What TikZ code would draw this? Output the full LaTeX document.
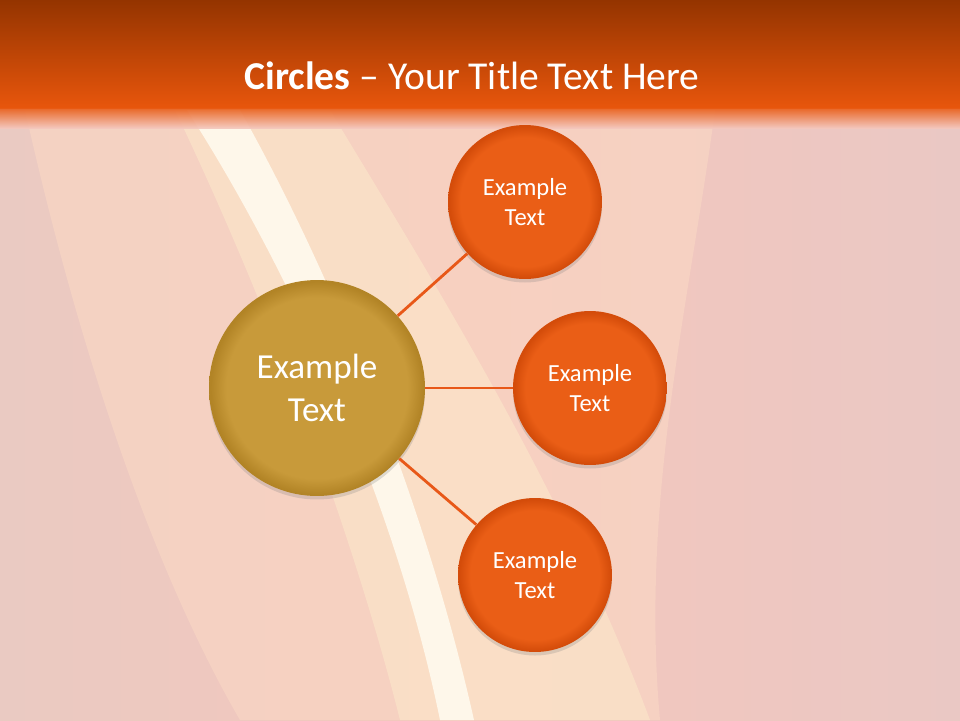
\documentclass[tikz,border=0pt]{standalone}
\usepackage{fontspec}
\setmainfont{Carlito}
\usetikzlibrary{shadows}

\definecolor{barTop}{RGB}{148,52,0}
\definecolor{barBottom}{RGB}{232,86,12}
\definecolor{bgLeft}{RGB}{234,202,194}
\definecolor{bgPink}{RGB}{244,198,188}
\definecolor{bgRight}{RGB}{234,200,196}
\definecolor{bgPeach}{RGB}{250,216,196}
\definecolor{bgCream}{RGB}{252,232,202}
\definecolor{stripeColor}{RGB}{254,247,234}
\definecolor{ballOrange}{RGB}{234,94,22}
\definecolor{ballRim}{RGB}{212,76,10}
\definecolor{ballGold}{RGB}{200,154,58}
\definecolor{goldRim}{RGB}{178,132,38}
\definecolor{edgeLine}{RGB}{232,88,24}

\pgfdeclareradialshading{orangeball}{\pgfpoint{0bp}{0bp}}{color(0bp)=(ballOrange); color(21bp)=(ballOrange); color(24.6bp)=(ballRim); color(25bp)=(ballRim); color(50bp)=(ballRim)}
\pgfdeclareradialshading{goldball}{\pgfpoint{0bp}{0bp}}{color(0bp)=(ballGold); color(21bp)=(ballGold); color(24.6bp)=(goldRim); color(25bp)=(goldRim); color(50bp)=(goldRim)}

\begin{document}
\begin{tikzpicture}[x=0.02cm, y=-0.02cm]
    % 背景
    \shade[left color=bgLeft, right color=bgRight, middle color=bgPink] (0,0) rectangle (960,720);
    \fill[bgPeach, opacity=0.6] (25,110) .. controls (90,400) and (170,600) .. (240,720) -- (660,720) .. controls (640,500) and (690,300) .. (715,110) -- cycle;
    \fill[bgCream, opacity=0.6] (175,110) .. controls (280,330) and (360,560) .. (400,720) -- (650,720) .. controls (560,480) and (420,260) .. (330,110) -- cycle;
    \fill[stripeColor] (187,110) .. controls (290,270) and (395,500) .. (440,720) -- (474,720) .. controls (425,500) and (330,270) .. (240,110) -- cycle;

    % タイトル
    \shade[top color=barTop, bottom color=barBottom] (0,0) rectangle (960,108);
    \shade[top color=barBottom, bottom color=bgPink, opacity=0.9] (0,107) rectangle (960,128);
    \node[text=white, font=\fontsize{22.5}{27}\selectfont] (title) at (472,76) {\textbf{Circles} -- Your Title Text Here};

    % ノード
    \node[circle, minimum size=4.32cm, shading=goldball, drop shadow={opacity=0.25, shadow xshift=0pt, shadow yshift=-2pt}, text=white, align=center, font=\fontsize{20}{24.5}\selectfont] (C) at (317,388) {Example\\Text};
    \node[circle, minimum size=3.08cm, shading=orangeball, drop shadow={opacity=0.25, shadow xshift=0pt, shadow yshift=-2pt}, text=white, align=center, font=\fontsize{14}{17}\selectfont] (T) at (525,202) {Example\\Text};
    \node[circle, minimum size=3.08cm, shading=orangeball, drop shadow={opacity=0.25, shadow xshift=0pt, shadow yshift=-2pt}, text=white, align=center, font=\fontsize{14}{17}\selectfont] (M) at (590,388) {Example\\Text};
    \node[circle, minimum size=3.08cm, shading=orangeball, drop shadow={opacity=0.25, shadow xshift=0pt, shadow yshift=-2pt}, text=white, align=center, font=\fontsize{14}{17}\selectfont] (B) at (535,575) {Example\\Text};

    % エッジ
    \draw[edgeLine, line width=1.6pt] (C) -- (T);
    \draw[edgeLine, line width=1.6pt] (C) -- (M);
    \draw[edgeLine, line width=1.6pt] (C) -- (B);
\end{tikzpicture}
\end{document}
